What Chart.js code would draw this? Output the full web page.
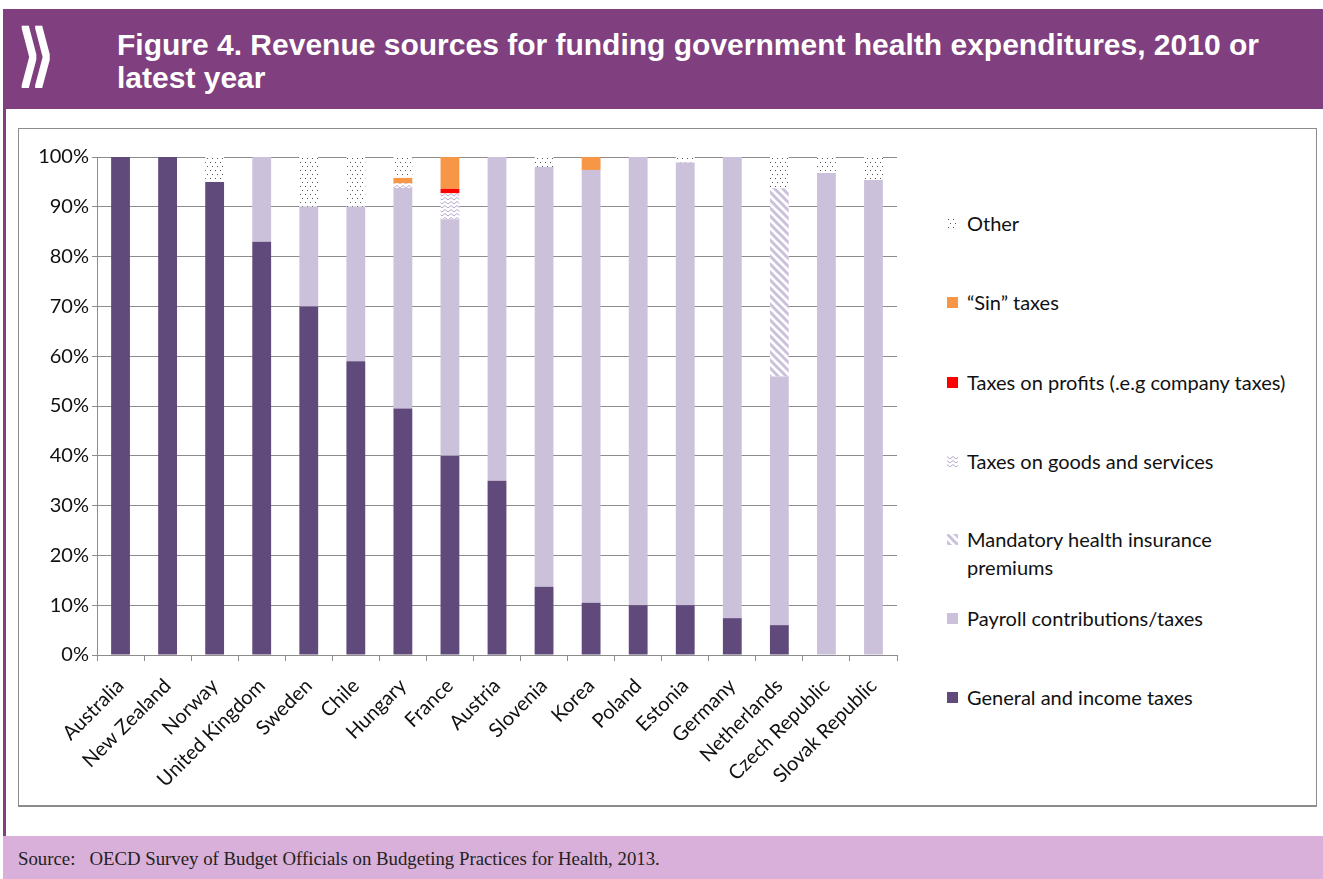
<!DOCTYPE html>
<html>
<head>
<meta charset="utf-8">
<script src="https://cdn.jsdelivr.net/npm/chart.js@4"></script>
<style>
  body { margin: 0; background: #fff; width: 1323px; height: 879px; position: relative; overflow: hidden; }
  #header { position: absolute; left: 3px; top: 9px; width: 1320px; height: 100px; background: #803f7e; overflow: hidden; }
  #header .mark { position: absolute; left: 16px; top: -44px; color: #fff; font: bold 80px 'Liberation Sans', Arial, sans-serif; line-height: 80px; transform: scale(0.75, 2.0); transform-origin: left top; }
  #header h1 { position: absolute; left: 114px; top: 19px; margin: 0; color: #fff; font: bold 30px 'Liberation Sans', Arial, sans-serif; line-height: 33px; }
  #leftline { position: absolute; left: 3px; top: 109px; width: 3px; height: 727px; background: #803f7e; }
  #box { position: absolute; left: 18px; top: 128px; width: 1297px; height: 676px; border: 1px solid #8c8c8c; border-bottom: 2px solid #8c8c8c; }
  #chartWrap { position: absolute; left: 0; top: 0; width: 900px; height: 676px; }
  #legend { position: absolute; left: 928px; top: 0; }
  .item { position: absolute; left: 0; white-space: nowrap; font: 20px Lato, 'Open Sans', sans-serif; color: #111; line-height: 28px; }
  .item canvas { position: absolute; left: 0; top: 9px; }
  .item span { position: absolute; left: 20px; top: 0; }
  #footer { position: absolute; left: 3px; top: 836px; width: 1320px; height: 43px; background: #d8b0d9; }
  #footer p { margin: 0; position: absolute; left: 15px; top: 12px; font: 18.8px 'Liberation Serif', serif; color: #222; }
</style>
</head>
<body>
<div id="header">
  <div class="mark">&raquo;</div>
  <h1>Figure 4. Revenue sources for funding government health expenditures, 2010 or<br>latest year</h1>
</div>
<div id="leftline"></div>
<div id="box">
  <div id="chartWrap"><canvas id="chart"></canvas></div>
  <div id="legend"></div>
</div>
<div id="footer"><p>Source:&nbsp;&nbsp; OECD Survey of Budget Officials on Budgeting Practices for Health, 2013.</p></div>

<script>
const categories = ['Australia', 'New Zealand', 'Norway', 'United Kingdom', 'Sweden', 'Chile', 'Hungary', 'France', 'Austria', 'Slovenia', 'Korea', 'Poland', 'Estonia', 'Germany', 'Netherlands', 'Czech Republic', 'Slovak Republic'];

const generalTaxes = [100, 100, 95, 83, 70, 59, 49.5, 40, 35, 13.7, 10.5, 10, 10, 7.4, 6, 0, 0];
const payrollTaxes = [0, 0, 0, 17, 20, 31, 44.3, 47.5, 65, 84.3, 86.9, 90, 88.9, 92.6, 49.9, 96.8, 95.4];
const mandatoryPremiums = [0, 0, 0, 0, 0, 0, 0, 0, 0, 0, 0, 0, 0, 0, 37.8, 0, 0];
const goodsServicesTaxes = [0, 0, 0, 0, 0, 0, 0.9, 5.2, 0, 0, 0, 0, 0, 0, 0, 0, 0];
const profitTaxes = [0, 0, 0, 0, 0, 0, 0, 0.9, 0, 0, 0, 0, 0, 0, 0, 0, 0];
const sinTaxes = [0, 0, 0, 0, 0, 0, 1.1, 6.4, 0, 0, 2.6, 0, 0, 0, 0, 0, 0];
const otherSources = [0, 0, 5, 0, 10, 10, 4.2, 0, 0, 2, 0, 0, 1.1, 0, 6.3, 3.2, 4.6];

const yTicks = [0, 10, 20, 30, 40, 50, 60, 70, 80, 90, 100];

// small tiles for the hatched series
function makePattern(kind) {
    const c = document.createElement('canvas');
    const g = c.getContext('2d');
    if (kind === 'dots') {
        c.width = 5; c.height = 8;
        g.fillStyle = '#fff'; g.fillRect(0, 0, 5, 8);
        g.fillStyle = '#555';
        g.fillRect(1, 1, 1, 1);
        g.fillRect(3, 5, 1, 1);
    } else if (kind === 'zigzag') {
        c.width = 6; c.height = 4;
        g.fillStyle = '#fff'; g.fillRect(0, 0, 6, 4);
        g.strokeStyle = '#b7a8cc'; g.lineWidth = 1;
        g.beginPath(); g.moveTo(0, 0.5); g.lineTo(3, 3); g.lineTo(6, 0.5); g.stroke();
    } else {
        c.width = 8; c.height = 8;
        g.fillStyle = '#fff'; g.fillRect(0, 0, 8, 8);
        g.strokeStyle = '#ccc1da'; g.lineWidth = 3;
        g.beginPath();
        g.moveTo(-2, -2); g.lineTo(10, 10);
        g.moveTo(-2, 6); g.lineTo(2, 10);
        g.moveTo(6, -2); g.lineTo(10, 2);
        g.stroke();
    }
    return g.createPattern(c, 'repeat');
}

const dots = makePattern('dots');
const zigzag = makePattern('zigzag');
const stripes = makePattern('stripes');

const datasets = [
    { label: 'General and income taxes', data: generalTaxes, backgroundColor: '#604a7b' },
    { label: 'Payroll contributions/taxes', data: payrollTaxes, backgroundColor: '#ccc1da' },
    { label: ['Mandatory health insurance', 'premiums'], data: mandatoryPremiums, backgroundColor: stripes },
    { label: 'Taxes on goods and services', data: goodsServicesTaxes, backgroundColor: zigzag },
    { label: 'Taxes on profits (.e.g company taxes)', data: profitTaxes, backgroundColor: '#ff0000' },
    { label: '\u201cSin\u201d taxes', data: sinTaxes, backgroundColor: '#f79646' },
    { label: 'Other', data: otherSources, backgroundColor: dots }
];

const tickFont = { family: "Lato, 'Open Sans', sans-serif", size: 20 };

const chart = new Chart(document.getElementById('chart'), {
    type: 'bar',
    data: {
        labels: categories,
        datasets: datasets.map(d => ({ ...d, barPercentage: 0.4, categoryPercentage: 1, borderWidth: 0 }))
    },
    options: {
        responsive: true,
        maintainAspectRatio: false,
        animation: false,
        layout: { padding: { top: 28, right: 22, left: 0, bottom: 0 } },
        plugins: {
            legend: { display: false },
            tooltip: { enabled: false }
        },
        scales: {
            x: {
                stacked: true,
                grid: { drawOnChartArea: false, drawTicks: true, tickLength: 6, offset: true, color: '#8c8c8c' },
                border: { color: '#8c8c8c' },
                ticks: { maxRotation: 45, minRotation: 45, font: tickFont, color: '#111', padding: 13 },
                afterFit: s => { s.height = 150; }
            },
            y: {
                stacked: true,
                min: 0,
                max: 100,
                afterBuildTicks: s => { s.ticks = yTicks.map(v => ({ value: v })); },
                grid: { color: '#8c8c8c', tickLength: 5 },
                border: { color: '#8c8c8c' },
                ticks: { font: tickFont, color: '#111', padding: 3, callback: v => v + '%' },
                afterFit: s => { s.width = 78; }
            }
        }
    }
});

// legend on the right, top item first
const legend = document.getElementById('legend');
const legendTops = [80, 159, 239, 318, 396, 475, 554];
datasets.slice().reverse().forEach((d, i) => {
    const div = document.createElement('div');
    div.className = 'item';
    div.style.top = legendTops[i] + 'px';
    const sw = document.createElement('canvas');
    sw.width = 11; sw.height = 11;
    const g = sw.getContext('2d');
    g.fillStyle = d.backgroundColor;
    g.fillRect(0, 0, 11, 11);
    div.appendChild(sw);
    const span = document.createElement('span');
    span.innerHTML = Array.isArray(d.label) ? d.label.join('<br>') : d.label;
    div.appendChild(span);
    legend.appendChild(div);
});
</script>
</body>
</html>
